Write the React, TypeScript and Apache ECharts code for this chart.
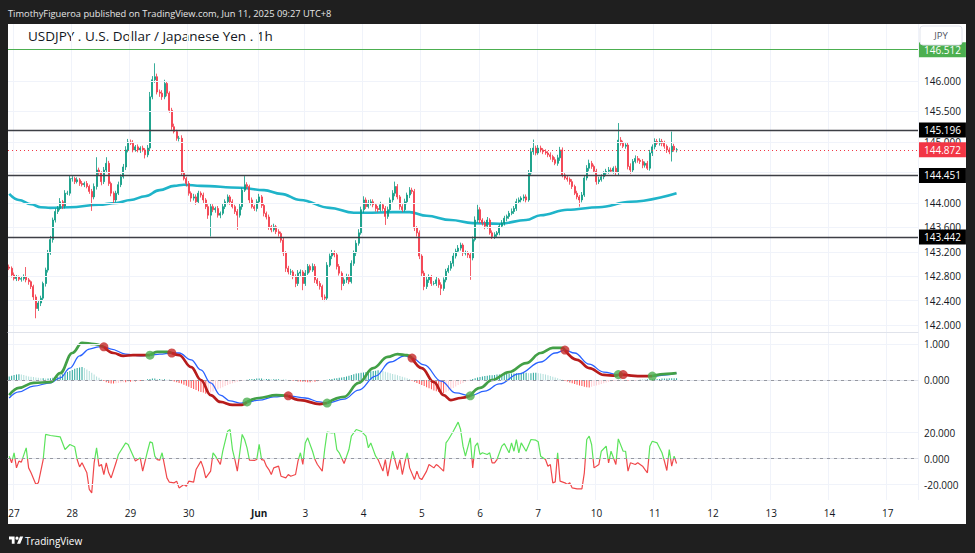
import React, { useEffect, useRef } from 'react';
import * as echarts from 'echarts';

// ---------- DATA ----------
// Hourly USDJPY candles (UTC+8), index 0 = May 26 22:00
const firstOpen = 142.95;
const closes = [
  142.93, 142.82, 142.76, 142.79, 142.75, 142.76, 142.79, 142.74, 142.71, 142.63,
  142.46, 142.27, 142.36, 142.44, 142.68, 142.90, 143.18, 143.40, 143.72, 143.86,
  143.91, 144.02, 143.95, 144.16, 144.16, 144.40, 144.40, 144.35, 144.38, 144.32,
  144.30, 144.32, 144.27, 144.19, 144.10, 144.27, 144.54, 144.49, 144.35, 144.54,
  144.65, 144.32, 144.16, 144.05, 144.16, 144.30, 144.43, 144.59, 144.87, 145.00,
  144.98, 144.87, 144.92, 144.87, 144.90, 144.87, 144.79, 144.90, 145.74, 146.02,
  146.07, 145.82, 145.80, 145.74, 145.96, 145.80, 145.52, 145.25, 145.17, 145.06,
  145.06, 144.49, 144.40, 144.32, 144.16, 144.08, 144.10, 144.02, 144.16, 144.13,
  144.05, 143.94, 143.80, 143.94, 143.89, 143.91, 143.80, 143.83, 143.94, 144.02,
  144.10, 144.02, 143.94, 143.86, 143.80, 143.94, 144.21, 144.30, 144.27, 144.05,
  143.94, 143.91, 144.02, 144.10, 143.96, 143.83, 143.77, 143.61, 143.56, 143.61,
  143.53, 143.50, 143.39, 143.18, 142.93, 142.87, 142.87, 142.79, 142.68, 142.85,
  142.87, 142.68, 142.85, 142.96, 142.90, 142.96, 142.74, 142.68, 142.63, 142.46,
  142.44, 142.98, 143.13, 143.18, 143.15, 142.96, 142.85, 142.68, 142.74, 142.79,
  142.71, 143.01, 143.18, 143.34, 143.51, 143.89, 144.05, 143.94, 144.00, 144.02,
  143.97, 143.91, 143.89, 143.97, 143.91, 143.78, 143.89, 144.05, 144.16, 144.27,
  144.10, 143.94, 143.89, 144.02, 144.13, 144.21, 144.19, 143.59, 143.51, 143.13,
  142.85, 142.63, 142.74, 142.79, 142.68, 142.68, 142.74, 142.66, 142.60, 142.74,
  142.88, 142.93, 143.01, 143.13, 143.21, 143.26, 143.31, 143.18, 143.18, 143.15,
  143.10, 143.40, 143.72, 143.89, 143.72, 143.67, 143.62, 143.72, 143.51, 143.45,
  143.48, 143.51, 143.62, 143.67, 143.75, 143.78, 143.83, 143.86, 143.91, 144.02,
  144.05, 144.08, 144.10, 144.05, 144.49, 144.84, 144.90, 144.82, 144.90, 144.87,
  144.84, 144.82, 144.79, 144.76, 144.71, 144.65, 144.74, 144.87, 144.46, 144.41,
  144.39, 144.35, 144.27, 144.16, 144.10, 144.05, 144.13, 144.41, 144.57, 144.65,
  144.60, 144.52, 144.35, 144.38, 144.43, 144.49, 144.52, 144.54, 144.52, 144.57,
  144.50, 145.03, 144.98, 144.93, 144.95, 144.60, 144.54, 144.68, 144.73, 144.70,
  144.68, 144.62, 144.65, 144.57, 144.82, 144.92, 145.01, 144.98, 145.01, 144.98,
  144.93, 144.87, 144.84, 144.93, 144.87, 144.872,
];
// wick lengths beyond the body, in pips (0.01 JPY)
const upWickPips = [
  4, 3, 4, 3, 2, 3, 4, 16, 3, 2,
  3, 4, 5, 4, 3, 4, 5, 6, 4, 5,
  4, 6, 3, 5, 4, 5, 4, 3, 4, 3,
  4, 3, 4, 3, 4, 5, 21, 4, 3, 5,
  10, 4, 3, 3, 4, 5, 4, 5, 6, 5,
  4, 5, 3, 4, 3, 4, 3, 5, 8, 6,
  22, 5, 4, 5, 6, 4, 3, 4, 5, 3,
  4, 5, 4, 3, 4, 3, 5, 4, 4, 3,
  4, 3, 4, 5, 4, 3, 4, 3, 5, 4,
  4, 3, 4, 3, 4, 5, 4, 14, 4, 3,
  4, 3, 4, 5, 3, 4, 3, 4, 3, 5,
  3, 4, 3, 4, 3, 4, 5, 3, 4, 5,
  4, 3, 5, 4, 3, 5, 4, 3, 4, 3,
  4, 5, 4, 5, 4, 3, 4, 3, 4, 5,
  4, 5, 4, 5, 6, 5, 6, 4, 5, 4,
  4, 3, 4, 5, 3, 4, 5, 4, 5, 8,
  4, 3, 4, 5, 4, 5, 4, 4, 3, 4,
  3, 4, 5, 4, 3, 4, 5, 3, 4, 4,
  4, 5, 4, 5, 4, 5, 4, 3, 4, 3,
  4, 5, 6, 8, 4, 3, 4, 5, 3, 4,
  4, 3, 4, 5, 4, 3, 4, 5, 4, 5,
  4, 3, 4, 4, 5, 6, 14, 4, 5, 4,
  3, 4, 3, 4, 3, 4, 5, 5, 4, 3,
  4, 3, 4, 3, 4, 3, 5, 4, 5, 6,
  4, 3, 4, 5, 4, 3, 4, 5, 4, 3,
  4, 28, 5, 4, 3, 4, 5, 4, 5, 4,
  3, 4, 3, 4, 5, 4, 5, 4, 5, 4,
  4, 3, 4, 24, 4, 3,
];
const downWickPips = [
  3, 4, 3, 4, 3, 4, 3, 4, 5, 4,
  5, 16, 4, 5, 4, 5, 4, 3, 5, 4,
  4, 3, 5, 4, 3, 4, 5, 4, 3, 4,
  3, 4, 3, 4, 23, 4, 5, 4, 6, 4,
  5, 4, 5, 6, 4, 3, 4, 3, 5, 4,
  3, 4, 3, 4, 5, 3, 6, 4, 5, 4,
  5, 4, 6, 5, 4, 5, 4, 5, 3, 4,
  5, 4, 3, 5, 4, 6, 4, 5, 3, 4,
  5, 4, 6, 35, 4, 5, 4, 5, 3, 4,
  4, 5, 3, 4, 24, 4, 5, 3, 4, 5,
  3, 4, 5, 3, 4, 5, 4, 5, 4, 3,
  4, 5, 4, 5, 6, 4, 5, 4, 6, 4,
  5, 11, 4, 3, 4, 3, 5, 4, 5, 6,
  5, 4, 3, 5, 4, 5, 4, 11, 4, 5,
  4, 3, 4, 5, 4, 3, 5, 4, 3, 4,
  4, 5, 4, 3, 4, 14, 4, 3, 4, 5,
  4, 5, 4, 3, 4, 5, 4, 5, 6, 5,
  5, 6, 4, 5, 4, 3, 4, 5, 11, 4,
  4, 3, 4, 5, 4, 3, 4, 5, 4, 5,
  36, 4, 3, 4, 5, 4, 5, 4, 3, 4,
  4, 5, 4, 3, 4, 5, 4, 3, 4, 4,
  3, 4, 5, 4, 3, 4, 5, 4, 3, 4,
  4, 3, 4, 5, 4, 3, 4, 5, 4, 3,
  4, 5, 4, 3, 4, 11, 4, 3, 4, 5,
  4, 3, 5, 4, 3, 4, 5, 4, 3, 4,
  4, 5, 4, 3, 4, 5, 6, 4, 3, 4,
  4, 5, 4, 3, 4, 5, 4, 3, 4, 5,
  4, 5, 4, 16, 3, 4,
];

// moving average (hour index, price)
const movingAverage: [number, number][] = [
  [0, 144.15], [4, 144.05], [9, 143.98], [13, 143.93], [17, 143.92], [25, 143.93], [37, 143.97],
  [44, 144.0], [50, 144.05], [56, 144.11], [62, 144.21], [68, 144.28], [72, 144.3], [79, 144.28],
  [95, 144.25], [105, 144.21], [112, 144.15], [120, 144.05], [132, 143.92], [142, 143.84],
  [147, 143.84], [158, 143.85], [165, 143.85], [172, 143.79], [182, 143.72], [191, 143.67],
  [202, 143.66], [213, 143.72], [219, 143.8], [230, 143.89], [243, 143.93], [256, 144.02], [275, 144.16],
];

// MACD pane
const macdSignal: [number, number][] = [
  [0, -0.42], [4, -0.22], [10, -0.08], [17, -0.06], [21, 0.19], [26, 0.75], [30, 1.03], [35, 1.0],
  [39, 0.92], [43, 0.75], [47, 0.67], [51, 0.69], [58, 0.69], [61, 0.78], [65, 0.78], [67, 0.75],
  [70, 0.69], [75, 0.36], [79, 0.0], [83, -0.42], [87, -0.61], [92, -0.69], [96, -0.69], [98, -0.61],
  [103, -0.5], [110, -0.42], [115, -0.44], [120, -0.56], [128, -0.67], [131, -0.64], [138, -0.47],
  [144, -0.08], [150, 0.33], [156, 0.64], [160, 0.72], [164, 0.69], [166, 0.61], [170, 0.33],
  [175, -0.06], [179, -0.42], [182, -0.56], [186, -0.5], [190, -0.44], [194, -0.22], [199, 0.0],
  [206, 0.22], [213, 0.47], [219, 0.75], [224, 0.89], [228, 0.89], [229, 0.83], [234, 0.56],
  [239, 0.33], [245, 0.14], [250, 0.12], [251, 0.15], [253, 0.15], [259, 0.11], [265, 0.11],
  [271, 0.17], [275, 0.19],
];
const macdFast: [number, number][] = [
  [0, -0.5], [4, -0.33], [10, -0.17], [17, -0.08], [21, 0.06], [25, 0.33], [29, 0.67], [33, 0.86],
  [37, 0.92], [39, 0.92], [42, 0.86], [48, 0.72], [54, 0.67], [58, 0.69], [62, 0.72], [67, 0.75],
  [70, 0.75], [75, 0.56], [79, 0.28], [83, -0.08], [87, -0.42], [91, -0.58], [95, -0.64], [98, -0.61],
  [103, -0.56], [109, -0.47], [115, -0.44], [122, -0.5], [128, -0.61], [131, -0.64], [138, -0.53],
  [144, -0.28], [151, 0.11], [157, 0.5], [163, 0.67], [166, 0.61], [171, 0.42], [178, -0.03],
  [184, -0.36], [190, -0.44], [196, -0.31], [202, -0.11], [210, 0.17], [219, 0.5], [225, 0.75],
  [229, 0.83], [233, 0.75], [239, 0.44], [245, 0.22], [251, 0.15], [253, 0.15], [258, 0.11],
  [265, 0.11], [271, 0.14], [275, 0.19],
];
const bullishCrosses: [number, number][] = [[58, 0.69], [98, -0.61], [131, -0.64], [190, -0.44], [251, 0.15], [265, 0.11]];
const bearishCrosses: [number, number][] = [[39, 0.92], [67, 0.75], [115, -0.44], [166, 0.61], [229, 0.83], [253, 0.15]];
// hour index where the signal line turns bullish / bearish
const signalTurns: [number, 'bull' | 'bear'][] = [
  [0, 'bull'], [39, 'bear'], [58, 'bull'], [67, 'bear'], [98, 'bull'], [115, 'bear'], [131, 'bull'],
  [166, 'bear'], [190, 'bull'], [229, 'bear'], [251, 'bull'], [253, 'bear'], [265, 'bull'],
];
const histogram = [
  0.10, 0.12, 0.14, 0.15, 0.16, 0.15, 0.14, 0.12, 0.10,
  0.09, 0.08, 0.07, 0.06, 0.05, 0.05, 0.04, 0.04, 0.05, 0.06,
  0.08, 0.10, 0.13, 0.16, 0.19, 0.22, 0.25, 0.28, 0.31, 0.33, 0.35, 0.36,
  0.33, 0.29, 0.25, 0.20, 0.15, 0.10, 0.06, 0.02,
  -0.03, -0.06, -0.08, -0.10, -0.10, -0.09, -0.08, -0.07, -0.06, -0.06, -0.05, -0.05, -0.04, -0.04, -0.03, -0.03, -0.02, -0.01,
  0.02, 0.03, 0.04, 0.04, 0.03, 0.03, 0.02, 0.02, 0.01, 0.01,
  -0.02, -0.04, -0.06, -0.08, -0.10, -0.13, -0.16, -0.19, -0.22, -0.25, -0.28, -0.31, -0.33, -0.35, -0.38,
  -0.37, -0.35, -0.32, -0.29, -0.26, -0.23, -0.20, -0.17, -0.14, -0.11, -0.09, -0.07, -0.05, -0.04, -0.02, -0.01,
  0.01, 0.02, 0.03, 0.03, 0.04, 0.04, 0.04, 0.03, 0.03, 0.03, 0.02, 0.02, 0.02, 0.02, 0.01, 0.01, 0.01, 0.00,
  -0.01, -0.02, -0.03, -0.04, -0.04, -0.05, -0.05, -0.06, -0.06, -0.05, -0.05, -0.04, -0.03, -0.02, -0.01,
  0.01, 0.02, 0.03, 0.04, 0.05, 0.06, 0.07, 0.08, 0.10, 0.12, 0.14, 0.16, 0.18,
  0.19, 0.20, 0.21, 0.22, 0.23, 0.24, 0.25, 0.26, 0.27,
  0.26, 0.25, 0.23, 0.21, 0.19, 0.17, 0.15, 0.13, 0.11, 0.09, 0.07, 0.05, 0.03,
  -0.02, -0.05, -0.08, -0.11, -0.14, -0.17, -0.20, -0.23, -0.26, -0.29, -0.31, -0.33, -0.35, -0.37,
  -0.34, -0.30, -0.26, -0.22, -0.18, -0.14, -0.11, -0.08, -0.05, -0.02,
  0.01, 0.03, 0.05, 0.07, 0.08, 0.10, 0.11, 0.12, 0.13, 0.13, 0.14, 0.15, 0.15, 0.16, 0.16,
  0.17, 0.17, 0.18, 0.18, 0.19, 0.19, 0.20, 0.20, 0.20, 0.19, 0.19, 0.20, 0.20, 0.19, 0.18,
  0.17, 0.15, 0.13, 0.11, 0.09, 0.07, 0.05, 0.03, 0.01,
  -0.02, -0.04, -0.07, -0.09, -0.11, -0.13, -0.15, -0.17, -0.19, -0.20, -0.21,
  -0.19, -0.17, -0.15, -0.13, -0.11, -0.09, -0.07, -0.05, -0.04, -0.03, -0.02,
  0.01, 0.01, -0.01, -0.02, -0.02, -0.01, -0.01, -0.01, 0.00, 0.01, 0.01, 0.01, 0.02,
  0.02, 0.02, 0.03, 0.03, 0.03, 0.04, 0.04, 0.04, 0.05, 0.05, 0.05, 0.05,
];

// oscillator pane (hour index, value)
const oscillator: [number, number][] = [
  [0, 1.8], [1, -3.3], [2, 4.4], [3, -7.2], [4, -2], [5, -2.8], [7, 8.2], [8, -7.2], [9, -11], [11, -20],
  [12, -18.7], [14, -0.8], [15, 18.5], [17, 17.7], [21, 16.7], [23, 6.9], [25, 10.8], [27, 9], [28, -0.8],
  [29, -6.4], [30, -3.3], [32, -11], [33, -23.8], [34, -26.4], [35, -3.3], [36, 8.2], [37, -5.9], [38, -4.6],
  [39, -12.3], [40, -3.3], [41, -11], [42, -14.9], [44, -3.3], [45, 3.1], [48, 12], [49, 10.8], [51, 2.3],
  [52, -2], [54, 0.5], [55, -9.7], [57, 5.6], [58, 12.8], [59, 12], [60, 1.8], [61, -0.8], [62, -1.3],
  [63, 4.4], [65, -14.9], [66, -18.2], [68, -18.7], [69, -17.4], [70, -22.6], [72, -20], [73, -21.3],
  [74, -17.4], [76, -18.2], [77, -8.5], [79, -2], [80, -7.2], [81, -14.9], [83, -9.7], [84, 4.4], [85, 1.8],
  [87, -4.6], [88, 5.6], [90, 21], [91, 22.3], [92, 6.9], [93, -0.8], [94, -9.7], [96, 18.5], [97, 14.6],
  [98, 8.2], [99, -1.3], [101, -1.5], [102, -0.8], [103, 10.8], [104, -0.8], [105, -1.3], [106, -5.9],
  [107, -8.5], [108, -12.3], [109, -7.2], [111, -5.9], [112, -13.6], [114, -14.9], [115, -12.3],
  [116, -13.6], [118, -12.3], [119, -2], [120, 4.4], [121, -4.6], [122, 12], [123, 15.9], [125, 5.6],
  [126, -0.8], [127, -4.6], [129, -9.7], [130, 6.9], [131, 20.3], [133, 19.7], [134, 20], [135, 6.9],
  [136, 4.4], [138, -3.8], [140, 6.9], [141, 17.2], [143, 22.3], [145, 21], [147, 17.2], [148, 8.2],
  [149, 12], [151, 1.8], [152, -0.8], [154, -9.7], [155, -0.8], [156, -13.6], [157, -3.3], [158, 5.6],
  [160, -8.5], [161, -0.8], [162, -12.3], [163, -3.3], [164, 4.4], [165, -7.2], [167, -16.2], [168, -9.7],
  [169, -14.9], [170, -16.2], [172, -9.7], [173, -4.6], [175, -7.2], [176, -4.6], [177, -6], [179, -9.7],
  [180, 12], [181, 14.6], [183, 21], [185, 28], [186, 22.3], [187, 9.5], [188, 1.8], [190, 15.9],
  [191, -7.2], [192, 9.5], [193, 12], [194, 3.1], [195, 4.4], [197, 3.1], [198, 4.4], [199, -3.3],
  [200, -3.3], [201, -0.8], [203, 9.5], [204, 11.5], [206, 4.4], [207, 12], [208, 5.6], [209, 14.6],
  [210, 4.4], [211, 12], [213, 5.6], [215, 14.6], [217, 14.1], [218, 12.8], [219, 1.8], [221, -0.8],
  [222, -5.9], [223, -4.6], [224, -18.7], [225, -18], [226, 4.4], [227, -17.4], [229, -18.7], [230, -20],
  [231, -18.7], [232, -22.6], [234, -23.3], [236, -23.3], [237, -11], [238, 14.6], [239, 17.2],
  [240, 10.8], [241, -7.2], [243, -4.6], [244, 5.6], [246, 9.5], [247, -3.3], [248, 5.6], [250, -4.6],
  [251, 15.1], [253, 5.6], [254, 5.6], [255, -9.7], [256, -3.3], [258, -4.6], [259, -3.3], [261, -5.9],
  [262, -8.5], [263, -11], [264, 9.5], [265, 13.3], [267, 12], [269, 4.4], [270, -2], [271, -9.2],
  [272, 6.9], [273, -5.9], [274, 1.8], [275, -3.8],
];

// time axis: hour slots (incl. empty future slots) and day labels
const slotCount = 375;
const dayTicks: [number, string][] = [
  [2, '27'], [26, '28'], [50, '29'], [74, '30'], [103, 'Jun'], [122, '3'], [146, '4'], [170, '5'],
  [194, '6'], [218, '7'], [242, '10'], [266, '11'], [290, '12'], [314, '13'], [338, '14'], [362, '17'],
];
const priceTickLabels = [142.0, 142.4, 142.8, 143.2, 143.6, 144.0, 145.0, 145.5, 146.0];
const priceGridLines = [142.0, 142.4, 142.8, 143.2, 143.6, 144.0, 144.5, 145.0, 145.5, 146.0];
const macdTicks = [1, 0];
const oscTicks = [20, 0, -20];
const levelPrices = [145.196, 144.451, 143.442];
const sessionHigh = 146.512;
const lastPrice = 144.872;

const headerText = 'TimothyFigueroa published on TradingView.com, Jun 11, 2025 09:27 UTC+8';
const titleText = 'USDJPY . U.S. Dollar / Japanese Yen . 1h';
const currencyText = 'JPY';
const brandText = 'TradingView';

// ---------- STYLE ----------
const UP = '#089981';
const DOWN = '#f23645';
const GRID = '#f0f3fa';
const SEP = '#e0e3eb';
const TXT = '#131722';
const FONT = '"Open Sans", "Noto Sans", sans-serif';
const SIG_GREEN = '#43a047';
const SIG_RED = '#b71c1c';
const OSC_GREEN = '#5be35b';
const OSC_RED = '#f0474a';

const TV_LOGO = 'M14 22H7V11H0V4h14v18zM28 22h-8l7.5-18h8L28 22zM24 8a4 4 0 1 1-8 0a4 4 0 1 1 8 0z';
try {
  echarts.graphic.registerShape('tvLogo', echarts.graphic.extendPath(TV_LOGO, {}));
} catch (e) {
  /* already registered */
}

function buildOption() {
  const slots = Array.from({ length: slotCount }, (_, i) => String(i));
  const tickMap = new Map<number, string>(dayTicks);
  const showTick = (i: number) => tickMap.has(i);

  const candles = closes.map((c, i) => {
    const o = i === 0 ? firstOpen : closes[i - 1];
    const hi = Math.max(o, c) + upWickPips[i] / 100;
    const lo = Math.min(o, c) - downWickPips[i] / 100;
    return [o, c, +lo.toFixed(3), +hi.toFixed(3)];
  });

  const histData = histogram.map((v, i) => {
    const prev = i === 0 ? v : histogram[i - 1];
    let color;
    if (v >= 0) color = v >= prev ? '#26a69a' : '#b2dfdb';
    else color = v <= prev ? '#ff5252' : '#ffcdd2';
    return { value: v, itemStyle: { color } };
  });

  // oscillator colour: green above zero, red below (gradient over the line's own bounding box)
  const oscMax = Math.max(...oscillator.map((p) => p[1]));
  const oscMin = Math.min(...oscillator.map((p) => p[1]));
  const zeroAt = oscMax / (oscMax - oscMin);
  const oscColor = {
    type: 'linear', x: 0, y: 0, x2: 0, y2: 1,
    colorStops: [
      { offset: 0, color: OSC_GREEN }, { offset: zeroAt, color: OSC_GREEN },
      { offset: zeroAt, color: OSC_RED }, { offset: 1, color: OSC_RED },
    ],
  };

  const grids = [
    { left: 8, top: 24, width: 910, height: 308 },
    { left: 8, top: 332, width: 910, height: 78 },
    { left: 8, top: 410, width: 910, height: 90 },
  ];

  const xAxes = grids.map((_, gi) => ({
    type: 'category',
    gridIndex: gi,
    data: slots,
    boundaryGap: true,
    axisLine: { show: true, lineStyle: { color: SEP, width: 1 } },
    axisTick: { show: false },
    axisLabel: {
      show: gi === 2,
      interval: (i: number) => showTick(i),
      formatter: (v: string) => {
        const lab = tickMap.get(Number(v)) ?? '';
        return lab === 'Jun' ? '{b|Jun}' : lab;
      },
      color: TXT,
      fontSize: 10,
      margin: 8,
      fontFamily: FONT,
      rich: { b: { fontWeight: 'bold', fontSize: 10, color: TXT, fontFamily: FONT } },
    },
    splitLine: { show: true, interval: (i: number) => showTick(i), lineStyle: { color: GRID, width: 1 } },
  }));

  const yAxes = [
    { min: 141.885, max: 146.934 },
    { min: -0.833, max: 1.333 },
    { min: -31.9, max: 37.3 },
  ].map((r, gi) => ({
    type: 'value', gridIndex: gi, position: 'right', min: r.min, max: r.max,
    axisLine: { show: false }, axisTick: { show: false }, axisLabel: { show: false }, splitLine: { show: false },
  }));

  const tickLabel = {
    show: true, position: 'end', distance: 6, color: TXT, fontSize: 10, fontFamily: FONT,
    formatter: (p: any) => Number(p.value).toFixed(3),
  };
  const gridLine = (v: number, labelled: boolean, dashed = false) => ({
    yAxis: v,
    lineStyle: dashed ? { color: '#9598a1', type: [3, 4], width: 1 } : { color: GRID, type: 'solid', width: 1 },
    label: labelled ? tickLabel : { show: false },
  });

  const levelLabel = (bg: string) => ({
    show: true, position: 'end', distance: 1, formatter: (p: any) => Number(p.value).toFixed(3),
    backgroundColor: bg, color: '#ffffff', fontSize: 10, fontFamily: FONT, padding: [3, 5, 2, 5],
  });

  const series: any[] = [];
  // main pane
  series.push({
    type: 'line', xAxisIndex: 0, yAxisIndex: 0, data: movingAverage, smooth: 0.4, smoothMonotone: 'x',
    symbol: 'none', lineStyle: { color: '#1fb4c9', width: 2.6 }, z: 2,
    markLine: {
      symbol: 'none', silent: true, animation: false, precision: 3,
      data: priceGridLines.map((v) => gridLine(v, priceTickLabels.includes(v))),
    },
  });
  series.push({
    type: 'candlestick', xAxisIndex: 0, yAxisIndex: 0, data: candles, barWidth: 1.5,
    itemStyle: { color: UP, color0: DOWN, borderColor: UP, borderColor0: DOWN, borderWidth: 0.8 },
    markLine: {
      symbol: 'none', silent: true, animation: false, precision: 3,
      data: [
        { yAxis: sessionHigh, lineStyle: { color: '#4caf50', width: 1, type: 'solid' }, label: levelLabel('#4caf50') },
        ...levelPrices.map((v) => ({ yAxis: v, lineStyle: { color: '#3d3f45', width: 1.3, type: 'solid' }, label: levelLabel('#000000') })),
        { yAxis: lastPrice, lineStyle: { color: '#f23645', width: 1, type: [1, 3] }, label: levelLabel('#f23645') },
      ],
    },
    z: 3,
  });
  // MACD pane
  series.push({
    type: 'bar', xAxisIndex: 1, yAxisIndex: 1, data: histData, barWidth: 1, z: 1,
    markLine: {
      symbol: 'none', silent: true, animation: false, precision: 3,
      data: macdTicks.map((v) => gridLine(v, true, v === 0)),
    },
  });
  series.push({
    type: 'line', xAxisIndex: 1, yAxisIndex: 1, data: macdFast, smooth: 0.4, smoothMonotone: 'x',
    symbol: 'none', lineStyle: { color: '#2962ff', width: 1.3 }, z: 3,
  });
  signalTurns.forEach(([start, kind], k) => {
    const end = k + 1 < signalTurns.length ? signalTurns[k + 1][0] : slotCount;
    series.push({
      type: 'line', xAxisIndex: 1, yAxisIndex: 1,
      data: macdSignal.filter(([i]) => i >= start && i <= end),
      smooth: 0.4, smoothMonotone: 'x', symbol: 'none',
      lineStyle: { width: 2.7, color: kind === 'bull' ? SIG_GREEN : SIG_RED }, z: 4,
    });
  });
  series.push({
    type: 'scatter', xAxisIndex: 1, yAxisIndex: 1, data: bullishCrosses, symbolSize: 9,
    itemStyle: { color: '#4caf50' }, z: 5,
  });
  series.push({
    type: 'scatter', xAxisIndex: 1, yAxisIndex: 1, data: bearishCrosses, symbolSize: 9,
    itemStyle: { color: '#c62828' }, z: 5,
  });
  // oscillator pane
  series.push({
    type: 'line', xAxisIndex: 2, yAxisIndex: 2, data: oscillator, symbol: 'none',
    lineStyle: { width: 1.2, color: oscColor }, z: 3,
    markLine: {
      symbol: 'none', silent: true, animation: false, precision: 3,
      data: oscTicks.map((v) => gridLine(v, true, v === 0)),
    },
  });

  return {
    animation: false,
    textStyle: { fontFamily: FONT },
    grid: grids,
    xAxis: xAxes,
    yAxis: yAxes,
    series,
    graphic: [
      { type: 'text', x: 8, y: 13, style: { text: headerText, fill: '#e6e6e6', fontSize: 9.3, fontFamily: FONT, verticalAlign: 'middle' } },
      { type: 'text', x: 28, y: 36, style: { text: titleText, fill: TXT, fontSize: 13.5, fontFamily: FONT, verticalAlign: 'middle' } },
      { type: 'rect', x: 920, y: 26, shape: { width: 42, height: 19, r: 3 }, style: { fill: '#ffffff', stroke: '#e0e3eb' }, z: 10 },
      { type: 'text', x: 941, y: 35.5, style: { text: currencyText, fill: '#50535e', fontSize: 9.5, fontFamily: FONT, align: 'center', verticalAlign: 'middle' }, z: 11 },
      { type: 'tvLogo', x: 9, y: 535, scaleX: 0.4, scaleY: 0.4, style: { fill: '#ffffff' } },
      { type: 'text', x: 25, y: 540.5, style: { text: brandText, fill: '#ffffff', fontSize: 10, fontFamily: FONT, verticalAlign: 'middle' } },
    ],
  };
}

export default function App() {
  const ref = useRef<HTMLDivElement>(null);
  useEffect(() => {
    if (!ref.current) return;
    const chart = echarts.init(ref.current, undefined, { renderer: 'svg' });
    try {
      chart.setOption(buildOption() as any);
    } catch (e: any) {
      chart.clear();
      chart.setOption({
        graphic: [{ type: 'text', x: 20, y: 60, style: { text: String(e && e.stack ? e.stack : e).slice(0, 900), fill: '#c00', fontSize: 10, width: 900, overflow: 'break' } }],
      });
    }
    return () => chart.dispose();
  }, []);
  return (
    <div style={{ position: 'fixed', left: 0, top: 0, width: 975, height: 553, background: '#1f1f1f', overflow: 'hidden' }}>
      <div style={{ position: 'absolute', left: 8, top: 24, width: 958, height: 500, background: '#ffffff' }} />
      <div ref={ref} style={{ position: 'absolute', left: 0, top: 0, width: 975, height: 553 }} />
    </div>
  );
}
